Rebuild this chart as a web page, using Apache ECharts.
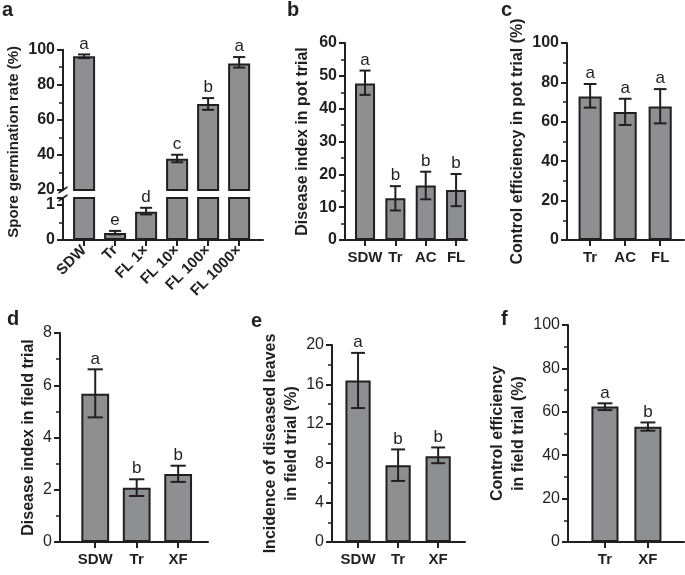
<!DOCTYPE html>
<html>
<head>
<meta charset="utf-8">
<script src="https://cdn.jsdelivr.net/npm/echarts@6/dist/echarts.min.js"></script>
<style>
  html, body { margin: 0; padding: 0; background: #fff; }
  #main { width: 685px; height: 575px; }
</style>
</head>
<body>
<div id="main"></div>
<script>
// panel a - spore germination
var catsA = ['SDW', 'Tr', 'FL 1×', 'FL 10×', 'FL 100×', 'FL 1000×'];
var meanA = [96.2, 0.2, 0.81, 37.8, 69, 92.2];
var lowA = [95.2, 0.16, 0.73, 35.8, 65.7, 89.8];
var highA = [97.3, 0.26, 0.92, 40.1, 72.4, 95.8];
var letA = ['a', 'e', 'd', 'c', 'b', 'a'];

// panel b - disease index, pot trial
var catsB = ['SDW', 'Tr', 'AC', 'FL'];
var meanB = [47.7, 12.7, 16.6, 15.2];
var lowB = [44.2, 9.0, 12.4, 10.3];
var highB = [51.6, 16.4, 20.8, 20.1];
var letB = ['a', 'b', 'b', 'b'];

// panel c - control efficiency, pot trial
var catsC = ['Tr', 'AC', 'FL'];
var meanC = [72.8, 65, 67.8];
var lowC = [67.2, 58.4, 59.2];
var highC = [79.2, 71.7, 76.6];
var letC = ['a', 'a', 'a'];

// panel d - disease index, field trial
var catsD = ['SDW', 'Tr', 'XF'];
var meanD = [5.67, 2.08, 2.6];
var lowD = [4.77, 1.76, 2.3];
var highD = [6.61, 2.4, 2.92];
var letD = ['a', 'b', 'b'];

// panel e - incidence of diseased leaves
var catsE = ['SDW', 'Tr', 'XF'];
var meanE = [16.4, 7.8, 8.7];
var lowE = [13.6, 6.2, 8.0];
var highE = [19.2, 9.4, 9.6];
var letE = ['a', 'b', 'b'];

// panel f - control efficiency, field trial
var catsF = ['Tr', 'XF'];
var meanF = [62.4, 53.1];
var lowF = [60.8, 51.3];
var highF = [63.9, 55.1];
var letF = ['a', 'b'];

var INK = '#231f20';
var GREY = '#8e8f91';
var FONT = 'Liberation Sans, Arial, sans-serif';

var grids = [], xAxes = [], yAxes = [], series = [], titles = [];

function nearest(arr, v) {
  var best = 0;
  arr.forEach(function (c, i) { if (Math.abs(c - v) < Math.abs(arr[best] - v)) best = i; });
  return best;
}

function addPanel(p) {
  var gi = grids.length;
  var centers = p.cats.map(function (c, i) { return p.lead + i; });
  grids.push({ left: p.left, top: p.top, width: p.width, height: p.height });
  xAxes.push({
    gridIndex: gi, type: 'value', min: 0, max: p.xEnd, show: p.showX !== false,
    splitLine: { show: false },
    axisLine: { show: true, onZero: false, lineStyle: { color: INK, width: 2 } },
    axisTick: { customValues: centers, length: 6, lineStyle: { color: INK, width: 2 } },
    axisLabel: {
      customValues: centers, color: INK, fontFamily: FONT, fontWeight: 'bold',
      fontSize: 15, margin: p.xMargin || 10, rotate: p.rotate || 0,
      formatter: function (v) { return p.cats[nearest(centers, v)]; }
    }
  });
  yAxes.push({
    gridIndex: gi, type: 'value', min: p.yMin, max: p.yMax, interval: p.yStep,
    splitLine: { show: false },
    axisLine: {
      show: true, lineStyle: { color: INK, width: 2 },
      symbol: p.breakSym || ['none', 'none'], symbolSize: [9, 9]
    },
    axisTick: { length: 6, lineStyle: { color: INK, width: 2 } },
    minorTick: { show: true, splitNumber: 2, length: 4, lineStyle: { color: INK, width: 1.5 } },
    axisLabel: {
      color: INK, fontFamily: FONT, fontSize: 16, margin: 8,
      fontWeight: p.boldTicks ? 'bold' : 'normal'
    },
    name: p.name || '', nameLocation: 'middle', nameRotate: 90, nameGap: p.nameGap,
    nameTextStyle: {
      color: INK, fontFamily: FONT, fontWeight: 'bold', fontSize: p.nameSize || 16,
      lineHeight: 21, padding: p.namePad || 0
    }
  });
  var barPx = p.width / p.xEnd * p.barFrac;
  series.push({
    type: 'bar', xAxisIndex: gi, yAxisIndex: gi, barWidth: barPx,
    itemStyle: { color: GREY, borderColor: INK, borderWidth: 2 },
    data: p.mean.map(function (m, i) {
      return (p.show && !p.show(i)) ? [centers[i], '-'] : [centers[i], m];
    })
  });
  var errData = [];
  p.mean.forEach(function (m, i) {
    if (p.err && !p.err(i)) return;
    errData.push([centers[i], p.low[i], p.high[i], i]);
  });
  var cap = barPx * 0.55;
  series.push({
    type: 'custom', xAxisIndex: gi, yAxisIndex: gi, z: 5, clip: false,
    encode: { x: 0, y: [1, 2] },
    data: errData,
    renderItem: function (params, api) {
      var x = api.value(0);
      var hi = api.coord([x, api.value(2)]);
      var lo = api.coord([x, api.value(1)]);
      var hw = cap / 2;
      var st = { stroke: INK, lineWidth: 2 };
      return {
        type: 'group', children: [
          { type: 'line', shape: { x1: hi[0], y1: hi[1], x2: lo[0], y2: lo[1] }, style: st },
          { type: 'line', shape: { x1: hi[0] - hw, y1: hi[1], x2: hi[0] + hw, y2: hi[1] }, style: st },
          { type: 'line', shape: { x1: lo[0] - hw, y1: lo[1], x2: lo[0] + hw, y2: lo[1] }, style: st },
          {
            type: 'text', x: hi[0], y: hi[1] - 2,
            style: {
              text: p.letters[api.value(3)], fill: INK, fontFamily: FONT, fontSize: 17,
              align: 'center', verticalAlign: 'bottom'
            }
          }
        ]
      };
    }
  });
}

var slash = 'path://M0,7L9,1L9,3L0,9Z';

// a, upper part (20-100)
addPanel({
  cats: catsA, mean: meanA, low: lowA, high: highA, letters: letA,
  left: 63, top: 43, width: 200, height: 147, xEnd: 6.45, lead: 0.68, barFrac: 0.71,
  yMin: 20, yMax: 100, yStep: 20, boldTicks: true, showX: false,
  show: function (i) { return meanA[i] >= 20; }, err: function (i) { return meanA[i] >= 20; },
  breakSym: [slash, 'none'],
  name: 'Spore germination rate (%)', nameGap: 35, nameSize: 15, namePad: [0, 44, 0, 0]
});
// a, lower part (0-1)
addPanel({
  cats: catsA, mean: meanA, low: lowA, high: highA, letters: letA,
  left: 63, top: 198, width: 200, height: 42, xEnd: 6.45, lead: 0.68, barFrac: 0.71,
  yMin: 0, yMax: 1.2, yStep: 1, boldTicks: true, rotate: 45, xMargin: 8,
  err: function (i) { return meanA[i] < 20; },
  breakSym: ['none', slash]
});
// b
addPanel({
  cats: catsB, mean: meanB, low: lowB, high: highB, letters: letB,
  left: 345, top: 43, width: 122, height: 197, xEnd: 4.02, lead: 0.66, barFrac: 0.66,
  yMin: 0, yMax: 60, yStep: 10, boldTicks: true,
  name: 'Disease index in pot trial', nameGap: 32
});
// c
addPanel({
  cats: catsC, mean: meanC, low: lowC, high: highC, letters: letC,
  left: 567, top: 43, width: 117, height: 197, xEnd: 3.34, lead: 0.66, barFrac: 0.66,
  yMin: 0, yMax: 100, yStep: 20, boldTicks: true,
  name: 'Control efficiency in pot trial (%)', nameGap: 38
});
// d
addPanel({
  cats: catsD, mean: meanD, low: lowD, high: highD, letters: letD,
  left: 60, top: 333, width: 148, height: 209, xEnd: 3.57, lead: 0.85, barFrac: 0.67,
  yMin: 0, yMax: 8, yStep: 2,
  name: 'Disease index in field trial', nameGap: 18
});
// e
addPanel({
  cats: catsE, mean: meanE, low: lowE, high: highE, letters: letE,
  left: 332, top: 345, width: 133, height: 197, xEnd: 3.32, lead: 0.65, barFrac: 0.63,
  yMin: 0, yMax: 20, yStep: 4,
  name: 'Incidence of diseased leaves\nin field trial (%)', nameGap: 30
});
// f
addPanel({
  cats: catsF, mean: meanF, low: lowF, high: highF, letters: letF,
  left: 568, top: 325, width: 116, height: 217, xEnd: 2.7, lead: 0.86, barFrac: 0.63,
  yMin: 0, yMax: 100, yStep: 20,
  name: 'Control efficiency\nin field trial (%)', nameGap: 26
});

[['a', 2, 0], ['b', 287, 0], ['c', 501, 0], ['d', 7, 309], ['e', 251, 311], ['f', 501, 309]].forEach(function (t) {
  titles.push({ text: t[0], left: t[1], top: t[2], padding: 0,
    textStyle: { color: INK, fontFamily: FONT, fontWeight: 'bold', fontSize: 20 } });
});

var chart = echarts.init(document.getElementById('main'));
chart.setOption({
  animation: false,
  backgroundColor: '#fff',
  title: titles,
  grid: grids,
  xAxis: xAxes,
  yAxis: yAxes,
  series: series
});
</script>
</body>
</html>
